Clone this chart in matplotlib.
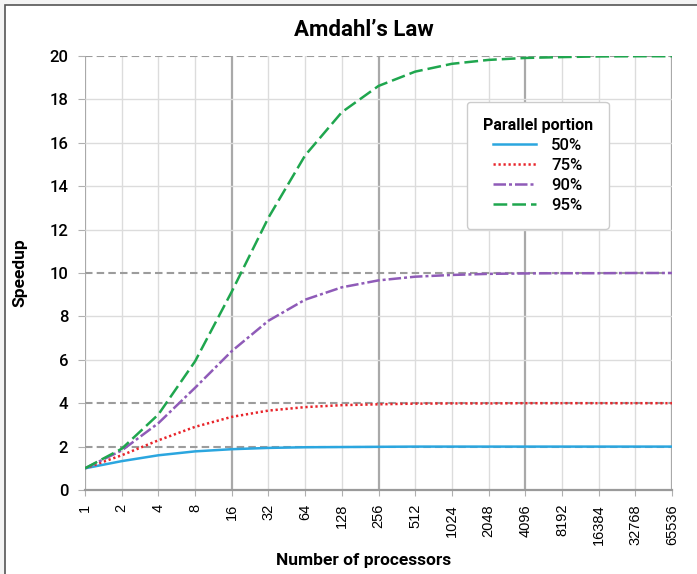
import matplotlib
matplotlib.use("Agg")
import matplotlib.pyplot as plt
from matplotlib.patches import Rectangle

# processor counts (powers of two) and speedup
processors = ["1", "2", "4", "8", "16", "32", "64", "128", "256", "512", "1024",
              "2048", "4096", "8192", "16384", "32768", "65536"]
speedup_50 = [1.0, 1.33, 1.6, 1.78, 1.88, 1.94, 1.97, 1.98, 1.99, 2.0, 2.0,
              2.0, 2.0, 2.0, 2.0, 2.0, 2.0]
speedup_75 = [1.0, 1.6, 2.29, 2.91, 3.37, 3.66, 3.82, 3.91, 3.95, 3.98, 3.99,
              3.99, 4.0, 4.0, 4.0, 4.0, 4.0]
speedup_90 = [1.0, 1.82, 3.08, 4.71, 6.4, 7.8, 8.77, 9.34, 9.66, 9.83, 9.91,
              9.96, 9.98, 9.99, 9.99, 10.0, 10.0]
speedup_95 = [1.0, 1.9, 3.48, 5.93, 9.14, 12.55, 15.42, 17.41, 18.62, 19.28, 19.64,
              19.82, 19.91, 19.95, 19.98, 19.99, 19.99]
limits = [2, 4, 10, 20]
yticks = [0, 2, 4, 6, 8, 10, 12, 14, 16, 18, 20]

W, H = 697, 574
fig = plt.figure(figsize=(W / 100, H / 100), dpi=100)
fig.patch.set_facecolor("#f4f4f4")
# white panel with a thin frame on the top/left edge
fig.patches.append(Rectangle((5 / W, -0.1), 1.2, 1 - 5 / H + 0.1,
                             transform=fig.transFigure, facecolor="white",
                             edgecolor="#555555", linewidth=1.2, zorder=-10))

ax = fig.add_axes([85 / W, 1 - 490 / H, (672 - 85) / W, (490 - 56) / H])
ax.set_facecolor("none")
x = list(range(len(processors)))

# grid
for i in x:
    if i % 4 == 0:
        ax.axvline(i, color="#a9a9a9", lw=1.6, zorder=1)
    else:
        ax.axvline(i, color="#dcdcdc", lw=1.0, zorder=1)
for v in yticks:
    if v not in limits:
        ax.axhline(v, color="#dcdcdc", lw=1.0, zorder=1)
for v in limits:
    ax.axhline(v, color="#9c9c9c", lw=1.5, ls=(0, (3.6, 2)), zorder=1.5)

ax.plot(x, speedup_50, color="#2ba6df", lw=1.8, label="50%", zorder=3)
ax.plot(x, speedup_75, color="#e8242a", lw=1.8, ls=(0, (0.9, 1.1)), label="75%", zorder=3)
ax.plot(x, speedup_90, color="#8f5bb8", lw=1.8, ls=(0, (5, 1.2, 1.2, 1.2)), label="90%", zorder=3)
ax.plot(x, speedup_95, color="#1fa64e", lw=1.8, ls=(0, (5.5, 2)), label="95%", zorder=3)

ax.set_xlim(0, 16)
ax.set_ylim(0, 20)
ax.set_xticks(x)
ax.set_xticklabels(processors, rotation=90, fontsize=10.5, family="Liberation Sans")
ax.set_yticks(yticks)
ax.set_yticklabels([str(v) for v in yticks], fontsize=12, family="Roboto", fontweight="medium")
ax.tick_params(axis="y", length=5, color="#b0b0b0", pad=7)
ax.tick_params(axis="x", length=4, color="#b0b0b0", pad=6)
for s in ["top", "right", "left"]:
    ax.spines[s].set_visible(False)
ax.spines["bottom"].set_color("#9a9a9a")
ax.spines["bottom"].set_linewidth(1.6)

ax.set_xlabel("Number of processors", fontsize=12.5, family="Roboto", fontweight="bold")
ax.xaxis.set_label_coords((364 - 85) / (672 - 85), (490 - 553) / (490 - 56))
ax.set_ylabel("Speedup", fontsize=12.5, family="Roboto", fontweight="bold")
ax.yaxis.set_label_coords((27 - 85) / (672 - 85), 0.5)
fig.text(364 / W, 1 - 30 / H, "Amdahl\u2019s Law", fontsize=16, family="Roboto",
         fontweight="bold", ha="center", va="center")

leg = ax.legend(title="Parallel portion", loc="upper left",
                bbox_to_anchor=((467 - 85) / (672 - 85), (490 - 102) / (490 - 56)),
                title_fontproperties={"family": "Roboto", "weight": "bold", "size": 11.5},
                prop={"family": "Roboto", "weight": "medium", "size": 12},
                handlelength=2.6, handletextpad=0.9, labelspacing=0.3, borderpad=0.95,
                borderaxespad=0, framealpha=1, edgecolor="#cccccc", fancybox=True)
leg.get_frame().set_linewidth(1.0)

fig.savefig("out.png", dpi=100, facecolor=fig.get_facecolor())
